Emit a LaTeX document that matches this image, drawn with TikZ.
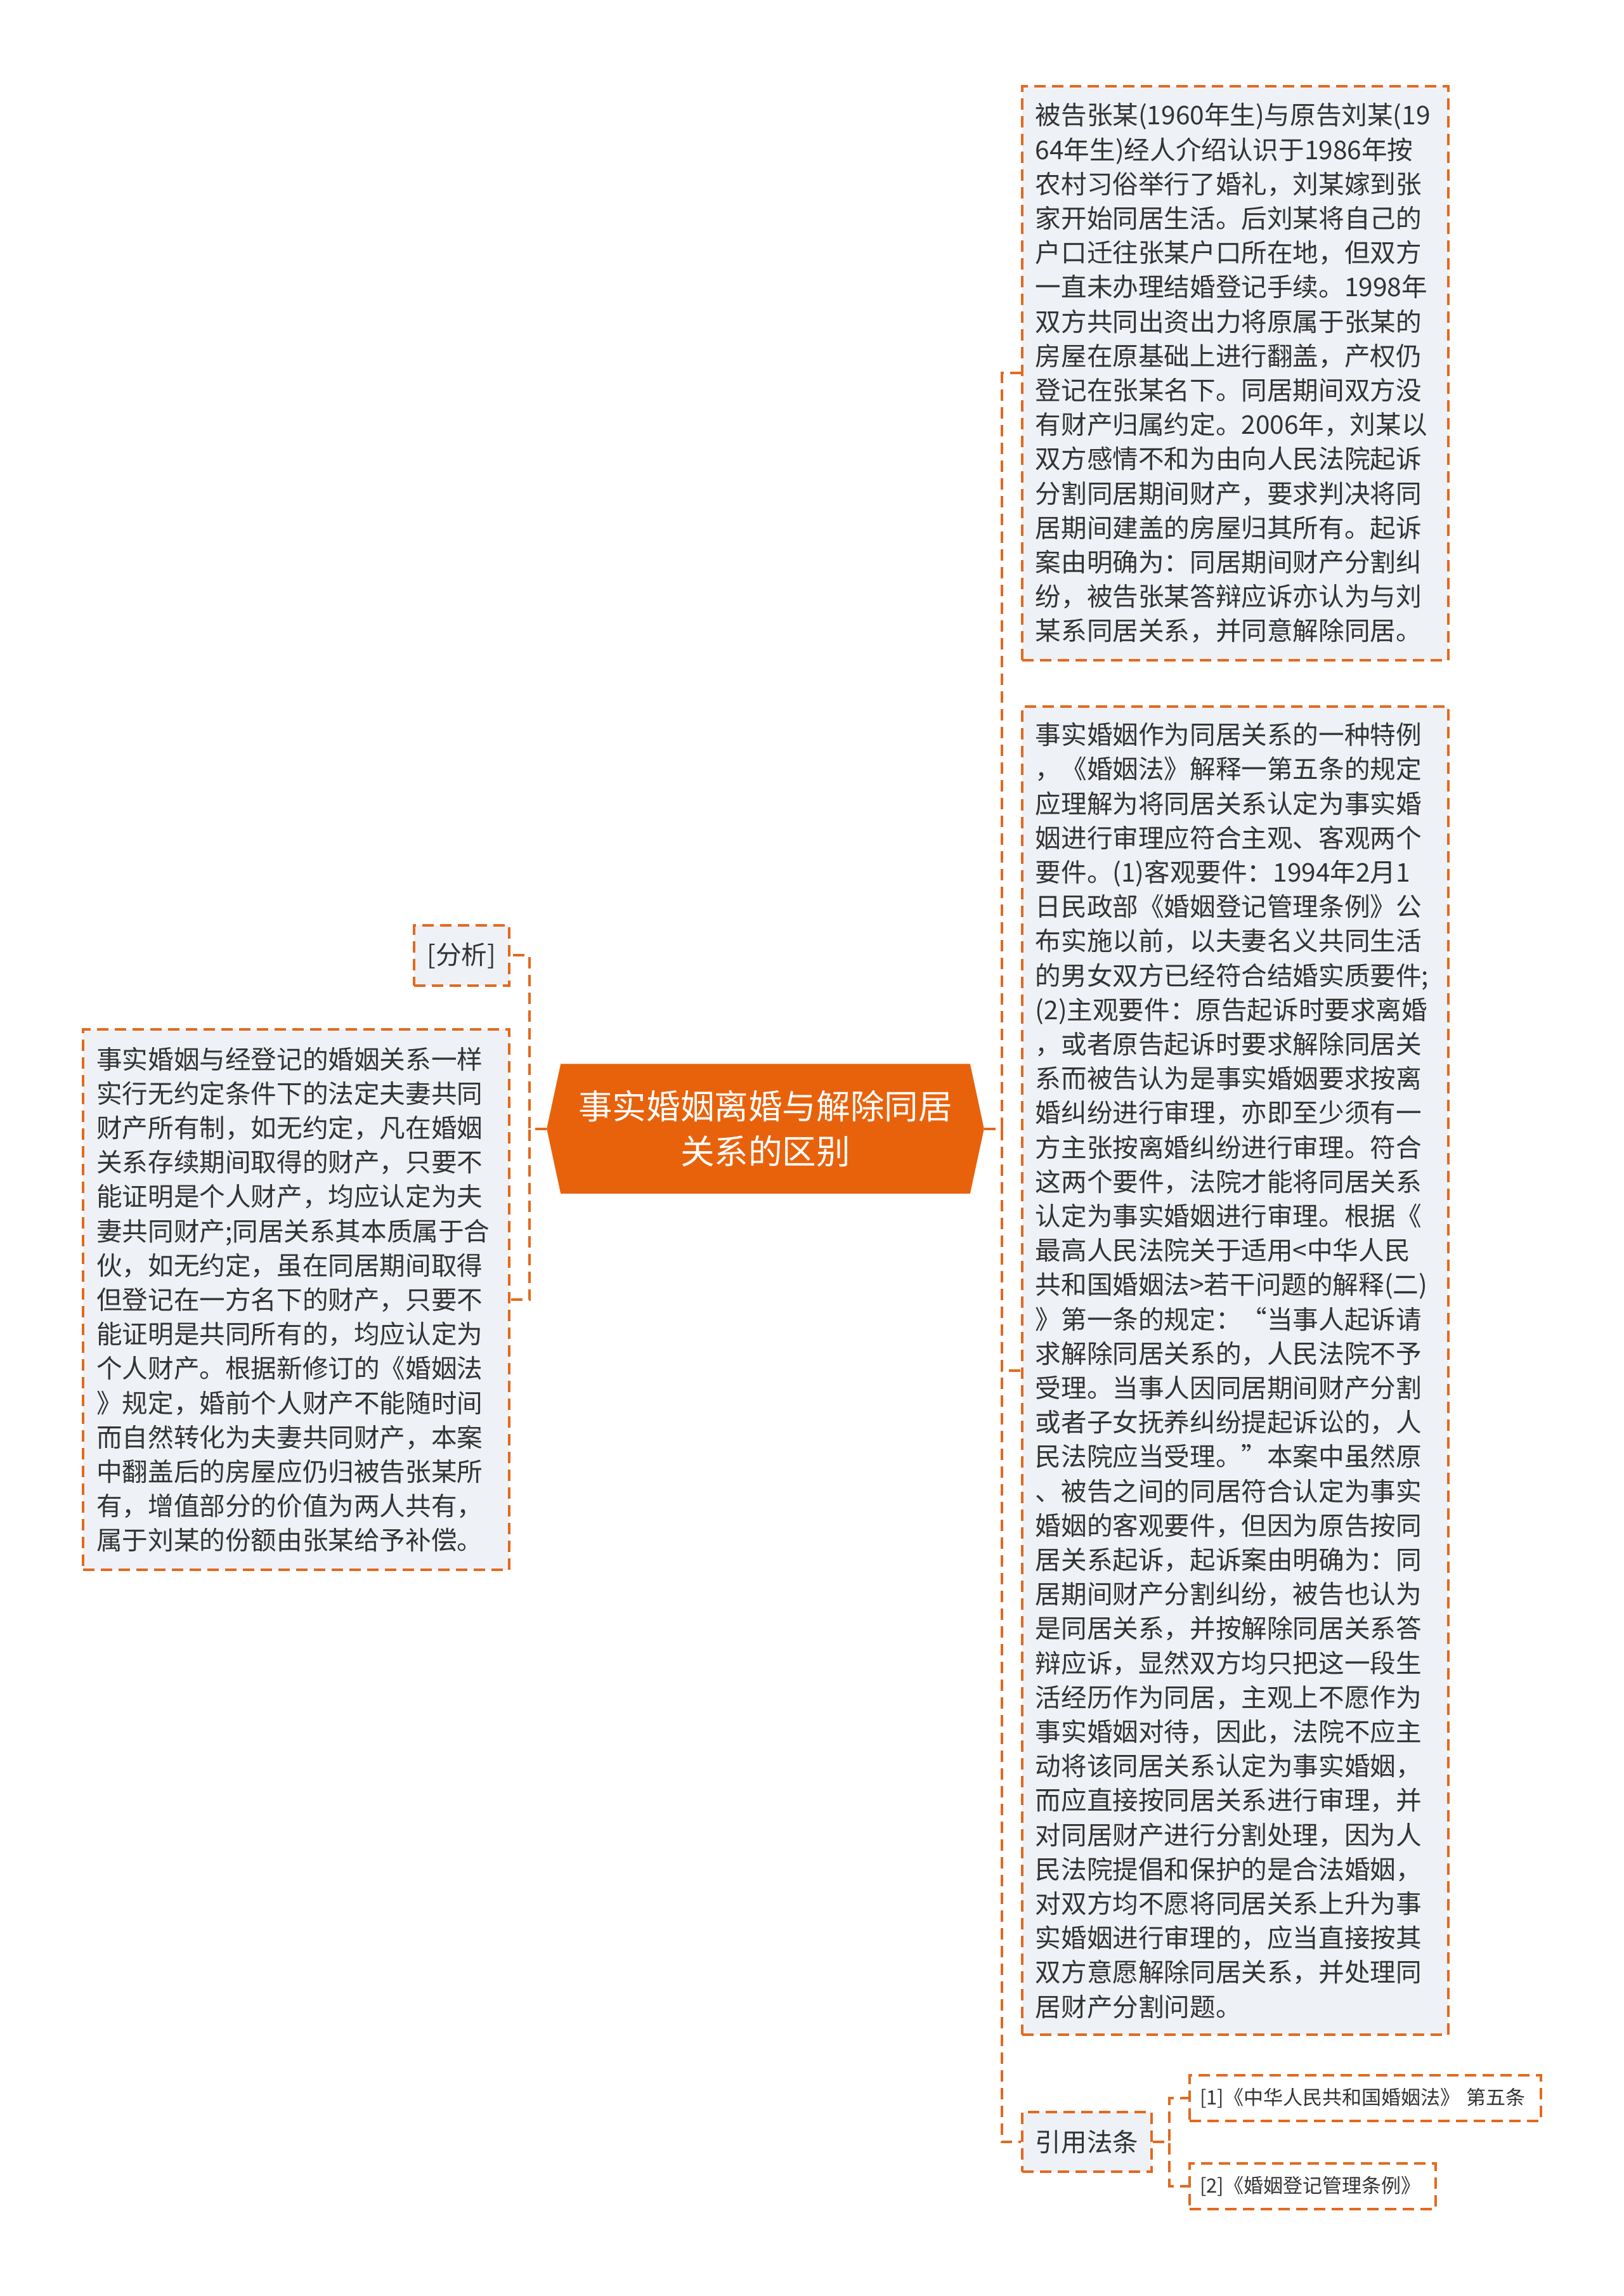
\documentclass[tikz,border=0pt]{standalone}
\usepackage{fontspec}
\setmainfont{Noto Sans CJK SC}
\usepackage{xcolor}
\usetikzlibrary{positioning,backgrounds}
\definecolor{topicorange}{HTML}{E8620C}
\definecolor{lineorange}{HTML}{E2691E}
\definecolor{boxgray}{HTML}{EEF1F5}
\definecolor{textgray}{HTML}{333333}
\tikzstyle{BOX_COLOR}  = [fill=boxgray]
\tikzstyle{dash_line}  = [draw=lineorange, line width=1pt, dash pattern=on 4.5pt off 2.5pt]
\tikzstyle{leaf}       = [rectangle, dash_line, inner xsep=5.25pt, inner ysep=0pt, text=textgray, font=\fontsize{10.15pt}{13.55pt}\selectfont]
\tikzstyle{text_box}   = [leaf, BOX_COLOR, text width=157.5pt, align=left]
\tikzstyle{tag_box}    = [leaf, BOX_COLOR, minimum height=23.6pt]
\tikzstyle{ref_box}    = [leaf, inner xsep=4pt, minimum height=18pt, align=left, font=\fontsize{7.75pt}{9pt}\selectfont]
\tikzstyle{topic}      = [rectangle, minimum width=172pt, minimum height=50.75pt, align=center, text=white, font=\fontsize{13.4pt}{17.9pt}\selectfont]
\tikzstyle{link}       = [dash_line]

\begin{document}
\begin{tikzpicture}[node distance = 14pt and 14pt]
  \useasboundingbox (0,0) rectangle (640pt,-905pt);

  % main topic
  \node[topic] (TOPIC) at (301.75pt,-444.9pt) {事实婚姻离婚与解除同居\\关系的区别};

  % right side
  \node[text_box, minimum height=226.25pt, right=14.5pt of TOPIC.east, yshift=297.8pt] (CASE_1) {被告张某(1960年生)与原告刘某(19\\
64年生)经人介绍认识于1986年按\\
农村习俗举行了婚礼，刘某嫁到张\\
家开始同居生活。后刘某将自己的\\
户口迁往张某户口所在地，但双方\\
一直未办理结婚登记手续。1998年\\
双方共同出资出力将原属于张某的\\
房屋在原基础上进行翻盖，产权仍\\
登记在张某名下。同居期间双方没\\
有财产归属约定。2006年，刘某以\\
双方感情不和为由向人民法院起诉\\
分割同居期间财产，要求判决将同\\
居期间建盖的房屋归其所有。起诉\\
案由明确为：同居期间财产分割纠\\
纷，被告张某答辩应诉亦认为与刘\\
某系同居关系，并同意解除同居。};
  \node[text_box, minimum height=523.5pt, below=17.25pt of CASE_1] (CASE_2) {事实婚姻作为同居关系的一种特例\\
，《婚姻法》解释一第五条的规定\\
应理解为将同居关系认定为事实婚\\
姻进行审理应符合主观、客观两个\\
要件。(1)客观要件：1994年2月1\\
日民政部《婚姻登记管理条例》公\\
布实施以前，以夫妻名义共同生活\\
的男女双方已经符合结婚实质要件;\\
(2)主观要件：原告起诉时要求离婚\\
，或者原告起诉时要求解除同居关\\
系而被告认为是事实婚姻要求按离\\
婚纠纷进行审理，亦即至少须有一\\
方主张按离婚纠纷进行审理。符合\\
这两个要件，法院才能将同居关系\\
认定为事实婚姻进行审理。根据《\\
最高人民法院关于适用<中华人民\\
共和国婚姻法>若干问题的解释(二)\\
》第一条的规定：“当事人起诉请\\
求解除同居关系的，人民法院不予\\
受理。当事人因同居期间财产分割\\
或者子女抚养纠纷提起诉讼的，人\\
民法院应当受理。”本案中虽然原\\
、被告之间的同居符合认定为事实\\
婚姻的客观要件，但因为原告按同\\
居关系起诉，起诉案由明确为：同\\
居期间财产分割纠纷，被告也认为\\
是同居关系，并按解除同居关系答\\
辩应诉，显然双方均只把这一段生\\
活经历作为同居，主观上不愿作为\\
事实婚姻对待，因此，法院不应主\\
动将该同居关系认定为事实婚姻，\\
而应直接按同居关系进行审理，并\\
对同居财产进行分割处理，因为人\\
民法院提倡和保护的是合法婚姻，\\
对双方均不愿将同居关系上升为事\\
实婚姻进行审理的，应当直接按其\\
双方意愿解除同居关系，并处理同\\
居财产分割问题。};
  \node[tag_box, below right=29.5pt and 0pt of CASE_2.south west] (LAW) {引用法条};
  \node[ref_box, text width=130.5pt, right=14pt of LAW.east, yshift=17.25pt] (LAW_1) {[1]《中华人民共和国婚姻法》 第五条};
  \node[ref_box, text width=89pt, right=14pt of LAW.east, yshift=-17.4pt] (LAW_2) {[2]《婚姻登记管理条例》};

  % left side
  \node[tag_box, left=14.25pt of TOPIC.west, yshift=68.3pt] (ANA) {[分析]};
  \node[text_box, minimum height=213pt, left=14.25pt of TOPIC.west, yshift=-67.35pt] (ANA_1) {事实婚姻与经登记的婚姻关系一样\\
实行无约定条件下的法定夫妻共同\\
财产所有制，如无约定，凡在婚姻\\
关系存续期间取得的财产，只要不\\
能证明是个人财产，均应认定为夫\\
妻共同财产;同居关系其本质属于合\\
伙，如无约定，虽在同居期间取得\\
但登记在一方名下的财产，只要不\\
能证明是共同所有的，均应认定为\\
个人财产。根据新修订的《婚姻法\\
》规定，婚前个人财产不能随时间\\
而自然转化为夫妻共同财产，本案\\
中翻盖后的房屋应仍归被告张某所\\
有，增值部分的价值为两人共有，\\
属于刘某的份额由张某给予补偿。};

  % connectors
  \draw[link] (TOPIC.east) -- ++(7pt,0) |- (CASE_1.west);
  \draw[link] (TOPIC.east) -- ++(7pt,0) |- (CASE_2.west);
  \draw[link] (TOPIC.east) -- ++(7pt,0) |- (LAW.west);
  \draw[link] (LAW.east) -- ++(6.5pt,0) |- (LAW_1.west);
  \draw[link] (LAW.east) -- ++(6.5pt,0) |- (LAW_2.west);
  \draw[link] (TOPIC.west) -- ++(-6.75pt,0) |- (ANA.east);
  \draw[link] (TOPIC.west) -- ++(-6.75pt,0) |- (ANA_1.east);

  % page and topic shape
  \begin{scope}[on background layer]
    \fill[white] (0,0) rectangle (640pt,-905pt);
    \fill[topicorange] (TOPIC.west) -- ([xshift=5.5pt]TOPIC.north west) -- ([xshift=-5.5pt]TOPIC.north east)
      -- (TOPIC.east) -- ([xshift=-5.5pt]TOPIC.south east) -- ([xshift=5.5pt]TOPIC.south west) -- cycle;
  \end{scope}
\end{tikzpicture}
\end{document}
